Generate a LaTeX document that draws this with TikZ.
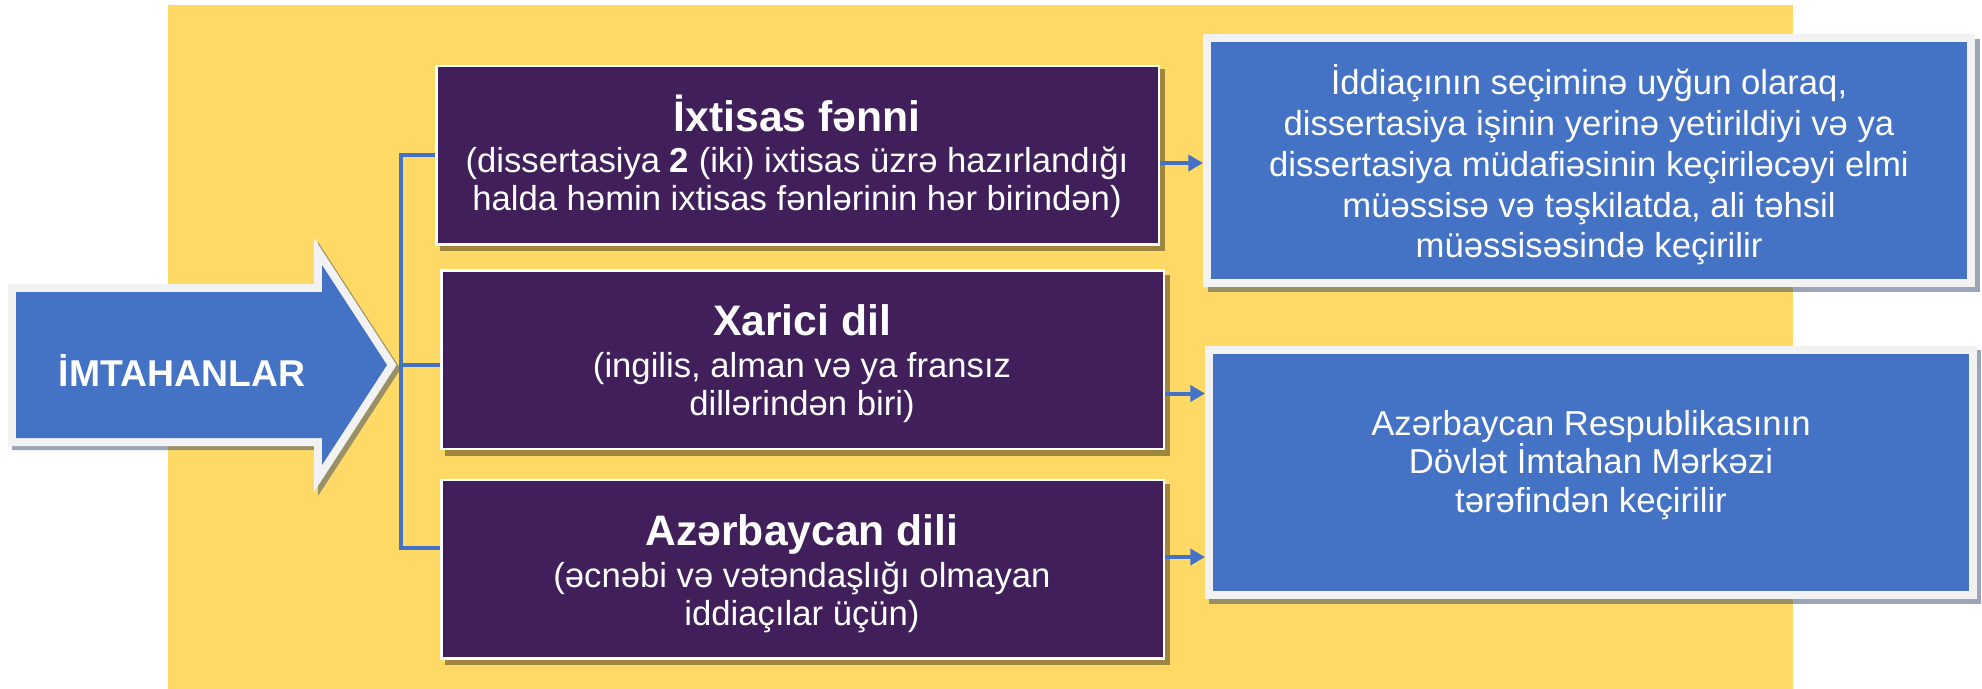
\documentclass[tikz,border=0pt]{standalone}
\usepackage{fontspec}
\setmainfont{Liberation Sans}
\usetikzlibrary{calc,arrows.meta}

\definecolor{bgyellow}{RGB}{255,217,102}
\definecolor{exampurple}{RGB}{64,31,91}
\definecolor{infoblue}{RGB}{68,114,196}
\definecolor{rimgray}{RGB}{242,242,242}
\definecolor{shadeblue}{RGB}{31,56,100}

\tikzset{
  exambox/.style={fill=exampurple, preaction={draw=white, line width=3.75pt}, inner sep=0pt, outer sep=1.9pt, minimum width=540pt, minimum height=132pt},
  infobox/.style={fill=infoblue, preaction={draw=rimgray, line width=12pt}, inner sep=0pt, outer sep=6pt, minimum width=567pt, minimum height=177.75pt},
  examtext/.style={text=white, align=center, font=\fontsize{26}{28.5}\selectfont},
  infotext/.style={text=white, align=center, font=\fontsize{26}{30.6}\selectfont},
  link/.style={draw=infoblue, line width=2.5pt},
  flow/.style={draw=infoblue, line width=3pt, -{Triangle[length=11pt,width=12pt]}},
  shade/.style={fill=black, opacity=0.38},
  blueshade/.style={fill=shadeblue, opacity=0.45},
}
\newcommand{\examtitle}[1]{{\fontsize{32}{36}\selectfont\bfseries #1}}

\begin{document}
\begin{tikzpicture}[x=0.75pt,y=0.75pt,yscale=-1,xscale=1]
\useasboundingbox (0,0) rectangle (1982,689);
%Shape: Rectangle
\fill[bgyellow] (168,5) rectangle (1793,689);
%Shadows
\fill[shade] (440,69) rectangle (1165,251);
\fill[shade] (445,275) rectangle (1170,456);
\fill[shade] (445,484) rectangle (1170,665);
\fill[blueshade] (1208,39) rectangle (1980,292);
\fill[blueshade] (1209,350) rectangle (1981,604);
\path[blueshade, draw=shadeblue, draw opacity=0.45, line width=12pt, shift={(4,4)}] (16,292) -- (322,292) -- (322,265) -- (387,365) -- (322,465) -- (322,438) -- (16,438) -- cycle;
%Shape: Right Arrow
\path[fill=infoblue, preaction={draw=rimgray, line width=12pt}] (16,292) -- (322,292) -- (322,265) -- (387,365) -- (322,465) -- (322,438) -- (16,438) -- cycle;
% Text Node
\node[text=white, font=\fontsize{28}{32}\selectfont\bfseries, anchor=base] (imt) at (182,386) {İMTAHANLAR};

%Exam boxes
\node[exambox] (fenn) at (797.5,155) {};
\node[exambox] (xarici) at (802.5,359.5) {};
\node[exambox] (azdil) at (802.5,569) {};
%Info boxes
\node[infobox] (elmi) at (1589,160.5) {};
\node[infobox] (dim) at (1591,472.5) {};

% Text Node
\node[examtext] (fenntxt) at (797,156) {\examtitle{İxtisas fənni}\\[2.3pt] (dissertasiya \textbf{2} (iki) ixtisas üzrə hazırlandığı\\ halda həmin ixtisas fənlərinin hər birindən)};
% Text Node
\node[examtext] (xaricitxt) at (802,364) {\examtitle{Xarici dil}\\[3pt] (ingilis, alman və ya fransız\\ dillərindən biri)};
% Text Node
\node[examtext] (azdiltxt) at (802,574) {\examtitle{Azərbaycan dili}\\[3pt] (əcnəbi və vətəndaşlığı olmayan\\ iddiaçılar üçün)};
% Text Node
\node[infotext] (elmitxt) at (1589,165) {İddiaçının seçiminə uyğun olaraq,\\ dissertasiya işinin yerinə yetirildiyi və ya\\ dissertasiya müdafiəsinin keçiriləcəyi elmi\\ müəssisə və təşkilatda, ali təhsil\\ müəssisəsində keçirilir};
% Text Node
\node[infotext, font=\fontsize{26}{29}\selectfont] (dimtxt) at (1591,465) {Azərbaycan Respublikasının\\ Dövlət İmtahan Mərkəzi\\ tərəfindən keçirilir};

%Straight Lines
\coordinate (spine) at (401,365);
\draw[link] (fenn.west) -| (spine) |- ($(azdil.west)+(0,-21)$);
\draw[link] (spine) -- (spine -| xarici.west);
%Straight Lines
\draw[flow] ($(fenn.east)+(0,8)$) coordinate (r1) -- (r1 -| elmi.west);
\draw[flow] ($(xarici.east)+(0,34)$) coordinate (r2) -- (r2 -| dim.west);
\draw[flow] ($(azdil.east)+(0,-12)$) coordinate (r3) -- (r3 -| dim.west);
\end{tikzpicture}
\end{document}
